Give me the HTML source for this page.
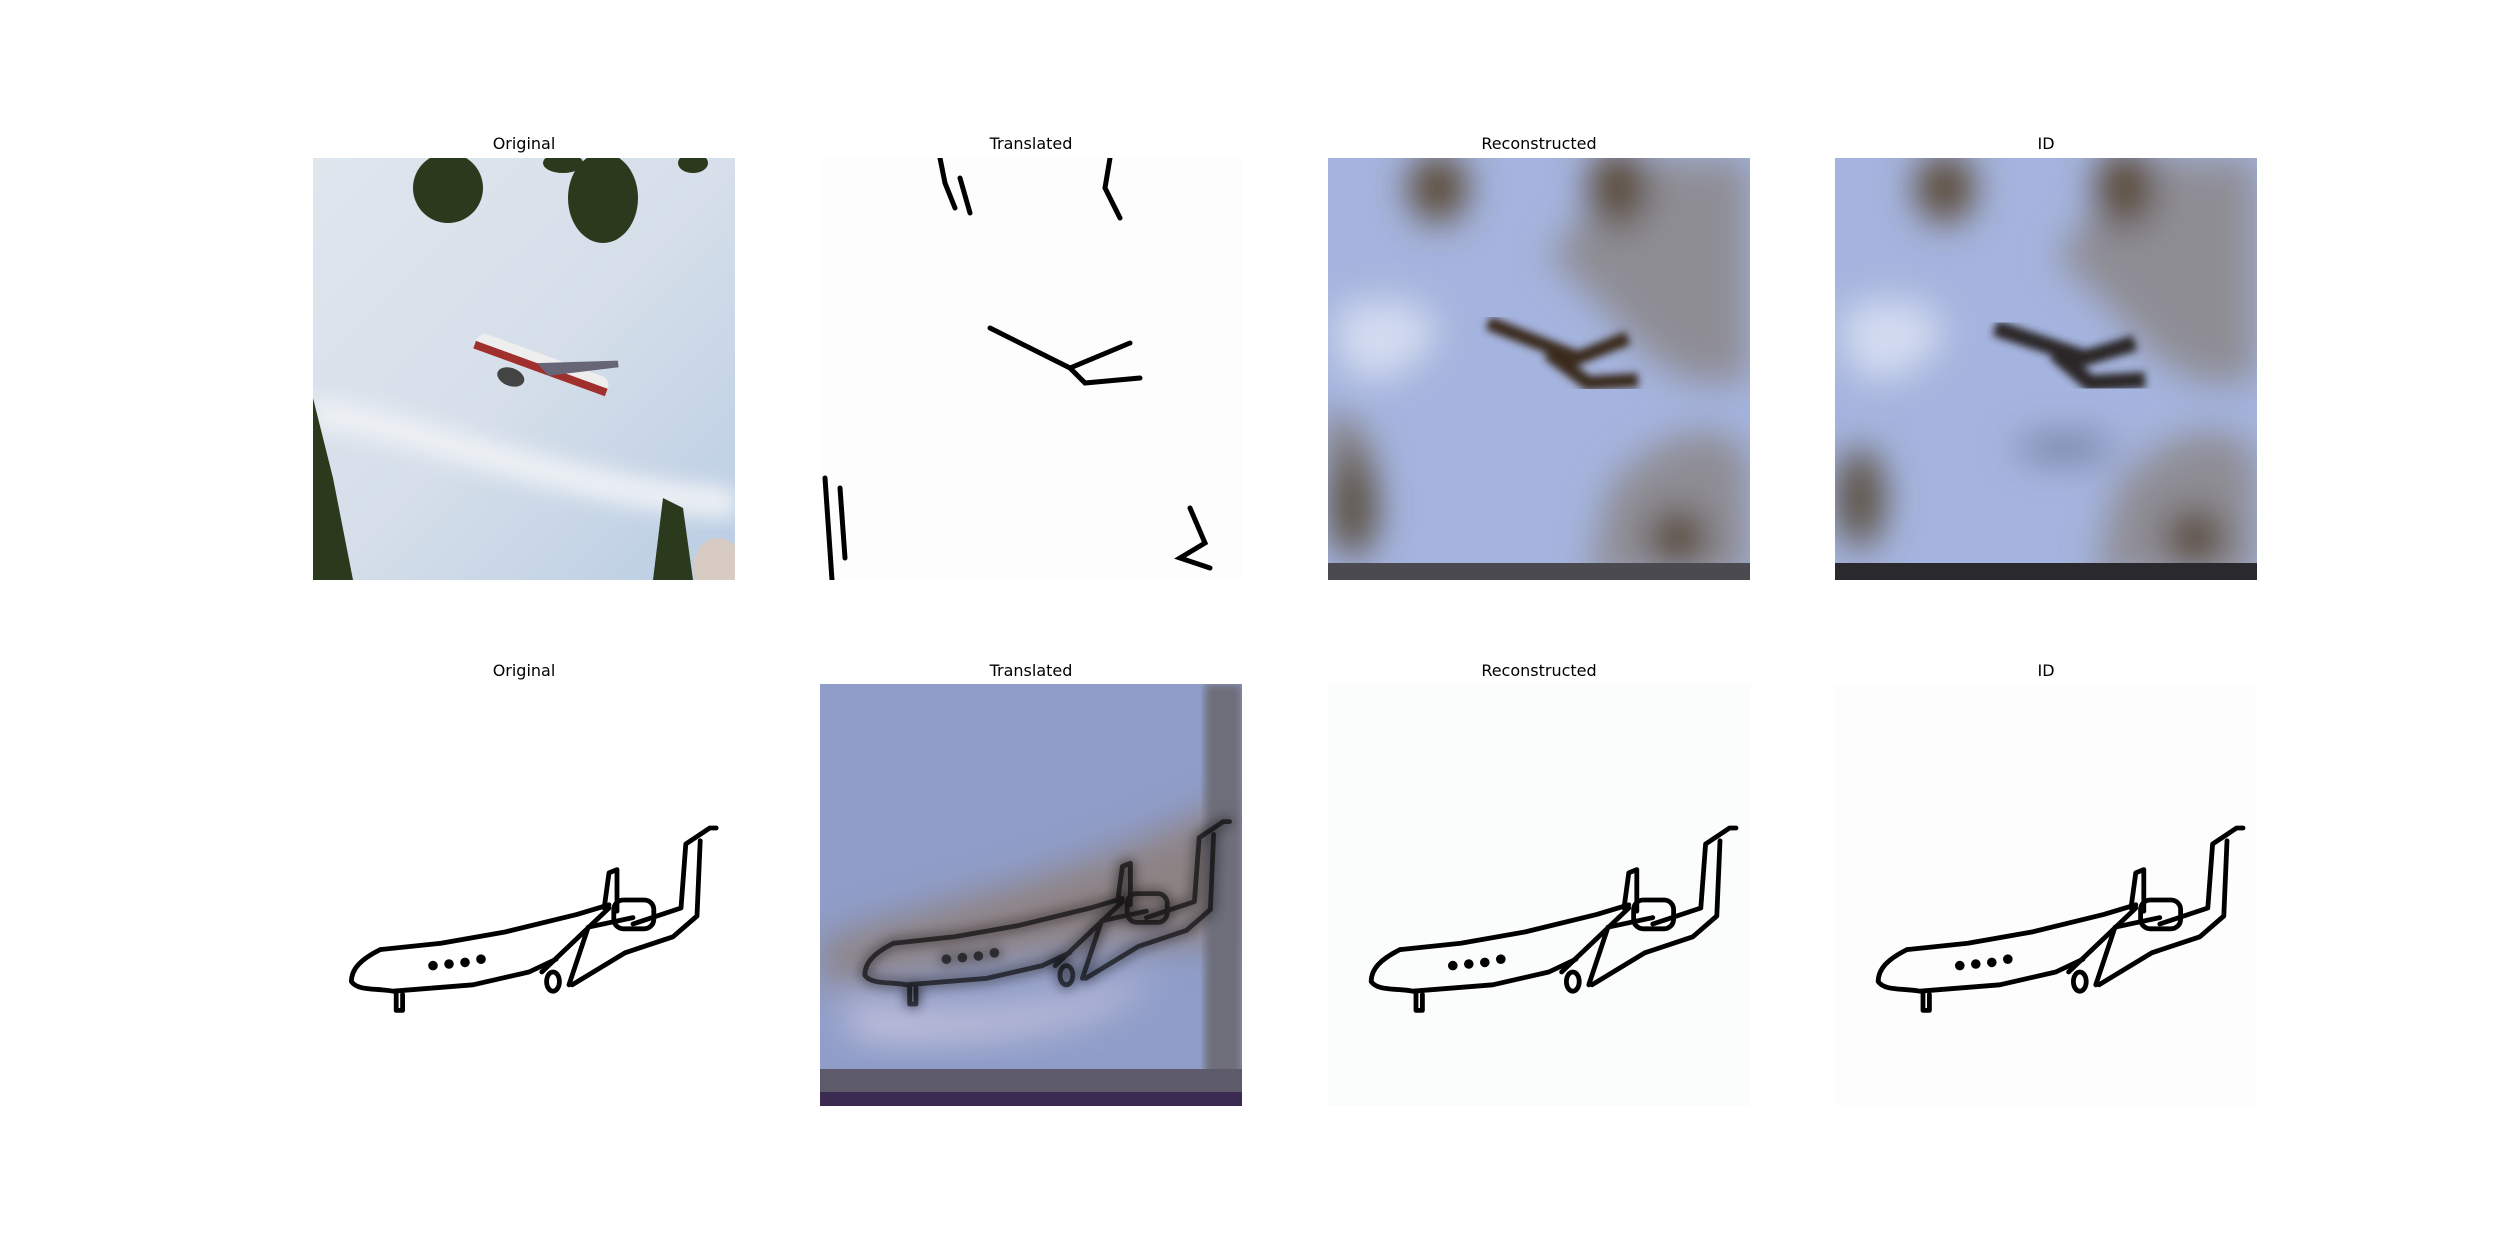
<!DOCTYPE html>
<html><head><meta charset="utf-8"><style>
html,body{margin:0;padding:0;background:#fff}
svg{display:block}
text{font-family:"DejaVu Sans","Liberation Sans",sans-serif;font-size:16px;fill:#000}
</style></head><body>
<svg width="2500" height="1250" viewBox="0 0 2500 1250">
<defs>
<filter id="b4"><feGaussianBlur stdDeviation="4"/></filter>
<filter id="b10"><feGaussianBlur stdDeviation="10"/></filter>
<filter id="b18"><feGaussianBlur stdDeviation="18"/></filter>
<clipPath id="cp"><rect x="0" y="0" width="422" height="422"/></clipPath>
<linearGradient id="sky" x1="0" y1="0" x2="1" y2="1"><stop offset="0" stop-color="#dfe6ee"/><stop offset="0.5" stop-color="#d6dfea"/><stop offset="1" stop-color="#b9cde3"/></linearGradient>
<g id="sketch" fill="none" stroke="#000" stroke-width="3" stroke-linecap="round" stroke-linejoin="round">
<path d="M42,166 L80,162 L120,155 L165,144 L185,138"/>
<path d="M42,166 C30,172 24,178 24,186 C28,192 40,190 50,192 L100,188 L135,180 L152,172"/>
<path d="M52,192 L52,204 L56,204 L56,194"/>
<path d="M143,180 L185,140"/>
<path d="M182,140 L185,118 L190,116 L190,142"/>
<rect x="188" y="135" width="25" height="18" rx="6"/>
<path d="M160,188 L172,152 L200,146"/>
<path d="M200,150 L230,140 L233,100 L248,90 L252,90 M242,98 L240,145 L225,158 L195,168 L162,188"/>
<ellipse cx="150" cy="186" rx="4" ry="6"/>
<circle cx="75" cy="176" r="1.5"/><circle cx="85" cy="175" r="1.5"/><circle cx="95" cy="174" r="1.5"/><circle cx="105" cy="172" r="1.5"/>
</g>
</defs>

<!-- Row 1 -->
<g transform="translate(313,158)">
<g clip-path="url(#cp)">
<rect width="422" height="422" fill="url(#sky)"/>
<path d="M0,240 C100,250 250,320 422,330 L422,360 C250,350 100,280 0,270Z" fill="#eef1f5" filter="url(#b10)"/>
<g fill="#2b3a1c">
<ellipse cx="135" cy="30" rx="35" ry="35"/><ellipse cx="290" cy="40" rx="35" ry="45"/><ellipse cx="250" cy="5" rx="20" ry="10"/><ellipse cx="380" cy="5" rx="15" ry="10"/>
<path d="M0,240 L20,320 L40,422 L0,422Z"/><path d="M350,340 L370,350 L380,422 L340,422Z"/>
</g>
<ellipse cx="405" cy="410" rx="25" ry="30" fill="#d8cbc3"/>
<g transform="rotate(20 210 200)"><rect x="160" y="190" width="140" height="18" rx="9" fill="#eee"/><rect x="160" y="200" width="140" height="8" fill="#a0302d"/>
<path d="M225,200 L300,170 L303,176 L240,208Z" fill="#667"/><ellipse cx="205" cy="222" rx="14" ry="9" fill="#444"/></g>
</g></g>
<text x="524" y="149" text-anchor="middle">Original</text>

<g transform="translate(820,158)">
<g clip-path="url(#cp)">
<rect width="422" height="422" fill="#fdfdfd"/>
<g fill="none" stroke="#000" stroke-width="5" stroke-linecap="round">
<path d="M120,0 L125,25 L135,50 M140,20 L150,55 M290,0 L285,30 L300,60"/>
<path d="M170,170 L250,210 L310,185 M250,210 L265,225 L320,220"/>
<path d="M5,320 L12,422 M20,330 L25,400"/>
<path d="M370,350 L385,385 L360,400 L390,410"/>
</g></g></g>
<text x="1031" y="149" text-anchor="middle">Translated</text>

<g transform="translate(1328,158)">
<g clip-path="url(#cp)">
<rect width="422" height="422" fill="#a5b4de"/>
<g filter="url(#b18)">
<path d="M220,100 C300,160 330,250 422,220 L422,0 L300,0Z" fill="#8e8d94"/>
<path d="M280,330 C340,260 400,260 422,300 L422,422 L260,422Z" fill="#8e8d94"/>
<path d="M0,250 C60,280 60,340 0,360Z" fill="#7a7570"/>
<path d="M10,150 C100,120 150,180 60,220 C20,230 0,200 10,150Z" fill="#d3dcf0"/>
<ellipse cx="110" cy="30" rx="30" ry="35" fill="#5a4a35"/><ellipse cx="290" cy="30" rx="30" ry="40" fill="#5a4a35"/>
<ellipse cx="350" cy="380" rx="30" ry="30" fill="#5a4a35"/><ellipse cx="25" cy="350" rx="25" ry="50" fill="#5a5040"/>
</g>
<path d="M160,165 L250,200 L300,180 M220,195 L260,225 L310,222" stroke="#3a2a1c" stroke-width="14" fill="none" filter="url(#b4)"/>
<rect y="405" width="422" height="17" fill="#4a4a50"/>
</g></g>
<text x="1539" y="149" text-anchor="middle">Reconstructed</text>

<g transform="translate(1835,158)">
<g clip-path="url(#cp)">
<rect width="422" height="422" fill="#a5b4de"/>
<g filter="url(#b18)">
<path d="M220,100 C300,160 330,250 422,220 L422,0 L300,0Z" fill="#8e8d94"/>
<path d="M280,330 C340,260 400,260 422,300 L422,422 L260,422Z" fill="#8e8d94"/>
<path d="M10,150 C100,120 150,180 60,220 C20,230 0,200 10,150Z" fill="#d3dcf0"/>
<ellipse cx="110" cy="30" rx="30" ry="35" fill="#5a4a35"/><ellipse cx="290" cy="30" rx="30" ry="40" fill="#5a4a35"/>
<ellipse cx="360" cy="380" rx="30" ry="30" fill="#5a4a35"/><ellipse cx="25" cy="340" rx="25" ry="50" fill="#5a5040"/>
<ellipse cx="230" cy="290" rx="50" ry="12" fill="#6d7898"/>
</g>
<path d="M160,170 L250,200 L300,185 M220,195 L255,225 L310,222" stroke="#2a2626" stroke-width="16" fill="none" filter="url(#b4)"/>
<rect y="405" width="422" height="17" fill="#2a2a2e"/>
</g></g>
<text x="2046" y="149" text-anchor="middle">ID</text>

<!-- Row 2 -->
<g transform="translate(313,684)">
<rect width="422" height="422" fill="#fff"/>
<g transform="scale(1.6)"><use href="#sketch"/></g>
</g>
<text x="524" y="676" text-anchor="middle">Original</text>

<g transform="translate(820,684)">
<g clip-path="url(#cp)">
<rect width="422" height="422" fill="#8f9dc8"/>
<g filter="url(#b18)">
<path d="M0,260 C100,220 250,200 400,120 L422,110 L422,260 L300,260 L0,300Z" fill="#8d8283"/>
<path d="M20,320 C120,340 250,330 330,290 C300,340 150,360 40,350Z" fill="#d8d0e4"/>
</g>
<rect x="385" y="0" width="37" height="422" fill="#6e6e7a" filter="url(#b4)"/>
<g transform="scale(1.6)" filter="url(#b4)" opacity="0.85"><use href="#sketch" transform="translate(4,-4)"/></g>
<g transform="scale(1.6)" opacity="0.6"><use href="#sketch" transform="translate(4,-4)"/></g>
<rect y="385" width="422" height="37" fill="#5d5a6a"/><rect y="408" width="422" height="14" fill="#3b2b50"/>
</g></g>
<text x="1031" y="676" text-anchor="middle">Translated</text>

<g transform="translate(1328,684)">
<rect width="422" height="422" fill="#fbfdfd"/>
<g transform="scale(1.6)"><use href="#sketch" transform="translate(3,0)"/></g>
</g>
<text x="1539" y="676" text-anchor="middle">Reconstructed</text>

<g transform="translate(1835,684)">
<rect width="422" height="422" fill="#fdfdfd"/>
<g transform="scale(1.6)"><use href="#sketch" transform="translate(3,0)"/></g>
</g>
<text x="2046" y="676" text-anchor="middle">ID</text>
</svg>
</body></html>
